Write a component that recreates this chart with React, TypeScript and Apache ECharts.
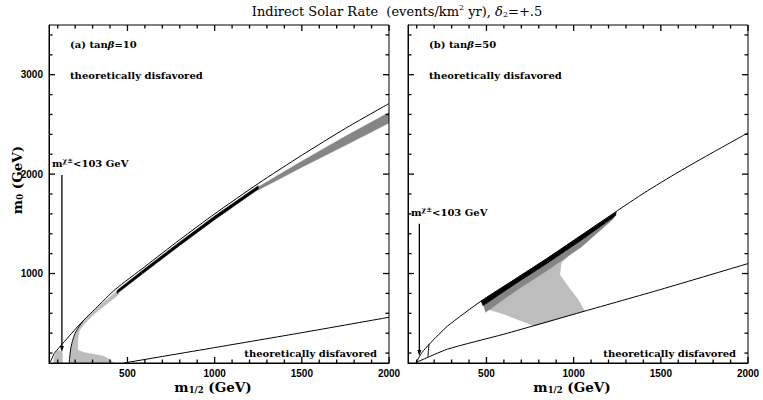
import React, { useEffect, useRef } from "react";
import * as echarts from "echarts";

// ---------- axes ----------
const X_MIN = 50;
const X_MAX = 2000;
const Y_MIN = 100;
const Y_MAX = 3500;
const xMajorTicks = [500, 1000, 1500, 2000];
const xMinorTicks = [100, 200, 300, 400, 600, 700, 800, 900, 1100, 1200, 1300, 1400, 1600, 1700, 1800, 1900];
const yMajorTicks = [1000, 2000, 3000];
const yMinorTicks = [200, 400, 600, 800, 1200, 1400, 1600, 1800, 2200, 2400, 2600, 2800, 3200, 3400];

// ---------- panel (a) tan beta = 10 ----------
const aUpperCurve = [[52, 100], [61, 123], [80, 195], [109, 257], [167, 373], [232, 500], [318, 650], [430, 840], [600, 1070], [800, 1340], [1000, 1600], [1250, 1905], [1500, 2190], [1750, 2460], [2000, 2710]];
const aInnerCurve = [[166, 100], [170, 180], [176, 260], [186, 330], [200, 400], [220, 460], [245, 520]];
const aStauLine = [[480, 100], [1000, 255], [1500, 405], [2000, 560]];
const aChargino = [[124, 1990], [124, 240]];
const aLightGrayMain = [[168, 100], [172, 180], [178, 260], [188, 330], [202, 400], [222, 460], [247, 520], [318, 645], [440, 825], [450, 790], [318, 605], [250, 490], [225, 430], [215, 340], [215, 230], [250, 205], [300, 190], [360, 170], [400, 135], [420, 100]];
const aLightGraySmall = [[78, 100], [78, 150], [92, 215], [112, 225], [126, 205], [128, 100]];
const aBlackTop = [[440, 830], [600, 1050], [800, 1318], [1000, 1578], [1250, 1883]];
const aBlackBottom = [[440, 798], [600, 1015], [800, 1282], [1000, 1542], [1250, 1848]];
const aGrayTop = [[1250, 1870], [1500, 2130], [1750, 2380], [2000, 2620]];
const aGrayBottom = [[1250, 1840], [1500, 2070], [1750, 2290], [2000, 2515]];

// ---------- panel (b) tan beta = 50 ----------
const bUpperCurve = [[96, 105], [130, 205], [172, 290], [278, 473], [469, 723], [661, 940], [852, 1157], [1044, 1385], [1236, 1615], [1408, 1815], [1600, 2020], [1800, 2220], [2000, 2415]];
const bLowerLine = [[96, 105], [278, 240], [600, 390], [1060, 620], [1500, 840], [2000, 1100]];
const bInnerCurve = [[165, 160], [167, 230], [171, 290]];
const bChargino = [[115, 1500], [115, 200]];
const bLightGray = [[475, 712], [661, 930], [852, 1147], [1044, 1375], [1230, 1600], [1159, 1500], [1063, 1335], [967, 1173], [929, 1107], [920, 990], [967, 873], [1025, 740], [1063, 623], [776, 473], [603, 590], [508, 640], [478, 690]];
const bDarkTop = [[478, 715], [661, 925], [852, 1142], [1044, 1370], [1240, 1600]];
const bDarkBottom = [[495, 610], [661, 818], [852, 1035], [1044, 1268], [1225, 1545]];
const bBlackTop = [[469, 723], [661, 940], [852, 1157], [1044, 1385], [1245, 1620]];
const bBlackBottom = [[480, 675], [661, 890], [852, 1107], [1044, 1335], [1240, 1580]];

const LIGHT = "#bdbdbd";
const DARK = "#858585";
const BLACK = "#000000";
const SERIF = "DejaVu Serif";
const SANS = "Liberation Sans";

function band(top: number[][], bottom: number[][]) {
  return top.concat(bottom.slice().reverse());
}

function polygonSeries(points: number[][], fill: string, g: number) {
  return {
    type: "custom",
    xAxisIndex: g,
    yAxisIndex: g,
    data: points,
    silent: true,
    clip: true,
    z: 1,
    renderItem: (params: any, api: any) => {
      if (params.dataIndex !== 0) return null;
      return {
        type: "polygon",
        shape: { points: points.map((p) => api.coord(p)) },
        style: { fill, stroke: fill, lineWidth: 0.5 },
      };
    },
  };
}

function lineSeries(points: any[], g: number, z = 5) {
  return {
    type: "line",
    xAxisIndex: g,
    yAxisIndex: g,
    data: points,
    showSymbol: false,
    symbol: "none",
    smooth: 0.2,
    silent: true,
    z,
    lineStyle: { color: BLACK, width: 1 },
  };
}

function charginoSeries(points: number[][], g: number) {
  return {
    type: "line",
    xAxisIndex: g,
    yAxisIndex: g,
    silent: true,
    z: 6,
    showSymbol: true,
    data: [
      { value: points[0], symbol: "none" },
      { value: points[1], symbol: "triangle", symbolSize: [4, 6], symbolRotate: 180, itemStyle: { color: BLACK } },
    ],
    lineStyle: { color: BLACK, width: 1.3 },
  };
}

// inward tick marks on all four sides, placed through the axes' scales
function tickSeries(g: number, values: number[], dim: "x" | "y", len: number) {
  return {
    type: "custom",
    xAxisIndex: g,
    yAxisIndex: g,
    silent: true,
    clip: false,
    z: 20,
    data: values.map((v) => (dim === "x" ? [v, Y_MIN] : [X_MIN, v])),
    renderItem: (params: any, api: any) => {
      const st = { stroke: BLACK, lineWidth: 1.3, fill: "none" };
      if (dim === "x") {
        const v = api.value(0);
        const b = api.coord([v, Y_MIN]);
        const t = api.coord([v, Y_MAX]);
        return {
          type: "group",
          children: [
            { type: "line", shape: { x1: b[0], y1: b[1], x2: b[0], y2: b[1] - len }, style: st },
            { type: "line", shape: { x1: t[0], y1: t[1], x2: t[0], y2: t[1] + len }, style: st },
          ],
        };
      }
      const v = api.value(1);
      const l = api.coord([X_MIN, v]);
      const r = api.coord([X_MAX, v]);
      return {
        type: "group",
        children: [
          { type: "line", shape: { x1: l[0], y1: l[1], x2: l[0] + len, y2: l[1] }, style: st },
          { type: "line", shape: { x1: r[0], y1: r[1], x2: r[0] - len, y2: r[1] }, style: st },
        ],
      };
    },
  };
}

const plain = (v: number) => String(v);

function makeXAxis(g: number) {
  return {
    type: "value",
    gridIndex: g,
    min: X_MIN,
    max: X_MAX,
    position: "bottom",
    axisLine: { show: true, onZero: false, lineStyle: { color: BLACK, width: 1 } },
    splitLine: { show: false },
    axisTick: { show: false },
    axisLabel: { show: true, customValues: xMajorTicks, formatter: plain, margin: 5, color: BLACK, fontFamily: SANS, fontWeight: "bold", fontSize: 10 },
  };
}

function makeYAxis(g: number, labels: boolean) {
  return {
    type: "value",
    gridIndex: g,
    min: Y_MIN,
    max: Y_MAX,
    position: "left",
    axisLine: { show: true, onZero: false, lineStyle: { color: BLACK, width: 1 } },
    splitLine: { show: false },
    axisTick: { show: false },
    axisLabel: labels
      ? { show: true, customValues: yMajorTicks, formatter: plain, margin: 6, color: BLACK, fontFamily: SANS, fontWeight: "bold", fontSize: 10 }
      : { show: false },
  };
}

const boldSerif = { fontFamily: SERIF, fontWeight: "bold", fontSize: 10, fill: BLACK };

function txt(x: number, y: number, text: string, align: string, extra: any = {}) {
  return {
    type: "text",
    x,
    y,
    silent: true,
    z: 100,
    style: { text, align, verticalAlign: "middle", ...boldSerif, ...extra },
  };
}

const supRich = {
  sup: { fontFamily: SERIF, fontWeight: "bold", fontSize: 7, verticalAlign: "top", padding: [0, 0, 6, 0], fill: BLACK },
};
const itRich = {
  it: { fontFamily: SERIF, fontWeight: "bold", fontStyle: "italic", fontSize: 10, fill: BLACK },
};
const subRich = {
  sub: { fontFamily: SERIF, fontWeight: "bold", fontSize: 8.5, verticalAlign: "bottom", padding: [6, 0, 0, 0], fill: BLACK },
};

function axisTitle(x: number, y: number, text: string, rotation = 0) {
  return {
    type: "text",
    x,
    y,
    rotation,
    silent: true,
    style: {
      text,
      align: "center",
      verticalAlign: "middle",
      fontFamily: SERIF,
      fontWeight: "bold",
      fontSize: 13.5,
      fill: BLACK,
      rich: subRich,
    },
  };
}

export default function App() {
  const ref = useRef<HTMLDivElement>(null);
  useEffect(() => {
    if (!ref.current) return;
    const chart = echarts.init(ref.current, undefined, { renderer: "svg" });
    const option: any = {
      animation: false,
      backgroundColor: "#ffffff",
      grid: [
        { left: 49, top: 25, width: 340, height: 338, show: true, borderColor: BLACK, borderWidth: 1, backgroundColor: "transparent", z: 10 },
        { left: 408, top: 25, width: 340, height: 338, show: true, borderColor: BLACK, borderWidth: 1, backgroundColor: "transparent", z: 10 },
      ],
      xAxis: [makeXAxis(0), makeXAxis(1)],
      yAxis: [makeYAxis(0, true), makeYAxis(1, false)],
      series: [
        // panel (a)
        polygonSeries(aLightGrayMain, LIGHT, 0),
        polygonSeries(aLightGraySmall, LIGHT, 0),
        polygonSeries(band(aGrayTop, aGrayBottom), DARK, 0),
        polygonSeries(band(aBlackTop, aBlackBottom), BLACK, 0),
        lineSeries(aUpperCurve, 0),
        lineSeries(aInnerCurve, 0),
        lineSeries(aStauLine, 0),
        charginoSeries(aChargino, 0),
        tickSeries(0, xMajorTicks, "x", 6),
        tickSeries(0, xMinorTicks, "x", 3.5),
        tickSeries(0, yMajorTicks, "y", 6),
        tickSeries(0, yMinorTicks, "y", 3.5),
        // panel (b)
        polygonSeries(bLightGray, LIGHT, 1),
        polygonSeries(band(bDarkTop, bDarkBottom), DARK, 1),
        polygonSeries(band(bBlackTop, bBlackBottom), BLACK, 1),
        lineSeries(bUpperCurve, 1),
        lineSeries(bLowerLine, 1),
        lineSeries(bInnerCurve, 1),
        charginoSeries(bChargino, 1),
        tickSeries(1, xMajorTicks, "x", 6),
        tickSeries(1, xMinorTicks, "x", 3.5),
        tickSeries(1, yMajorTicks, "y", 6),
        tickSeries(1, yMinorTicks, "y", 3.5),
      ],
      graphic: [
        {
          type: "text",
          x: 397,
          y: 11,
          silent: true,
          style: {
            text: "Indirect Solar Rate  (events/km{sup|2} yr), {it|δ}{sub|2}=+.5",
            align: "center",
            verticalAlign: "middle",
            fontFamily: SERIF,
            fontSize: 13,
            fill: BLACK,
            rich: {
              sup: { fontFamily: SERIF, fontSize: 8, verticalAlign: "top", padding: [0, 0, 7, 0], fill: BLACK },
              sub: { fontFamily: SERIF, fontSize: 8, verticalAlign: "bottom", padding: [6, 0, 0, 0], fill: BLACK },
              it: { fontFamily: SERIF, fontSize: 13, fontStyle: "italic", fill: BLACK },
            },
          },
        },
        txt(70, 44, "(a) tan{it|β}=10", "left", { rich: itRich }),
        txt(429, 44, "(b) tan{it|β}=50", "left", { rich: itRich }),
        txt(70, 75, "theoretically disfavored", "left"),
        txt(377, 353, "theoretically disfavored", "right"),
        txt(429, 75, "theoretically disfavored", "left"),
        txt(736, 353, "theoretically disfavored", "right"),
        txt(52, 163, "m{sup|χ±}<103 GeV", "left", { rich: supRich }),
        txt(411, 212, "m{sup|χ±}<103 GeV", "left", { rich: supRich }),
        axisTitle(213, 387, "m{sub|1/2} (GeV)"),
        axisTitle(572, 387, "m{sub|1/2} (GeV)"),
        axisTitle(17, 180, "m{sub|0} (GeV)", Math.PI / 2),
      ],
    };
    chart.setOption(option);
    return () => chart.dispose();
  }, []);
  return <div ref={ref} style={{ position: "absolute", left: 0, top: 0, width: 763, height: 400 }} />;
}
